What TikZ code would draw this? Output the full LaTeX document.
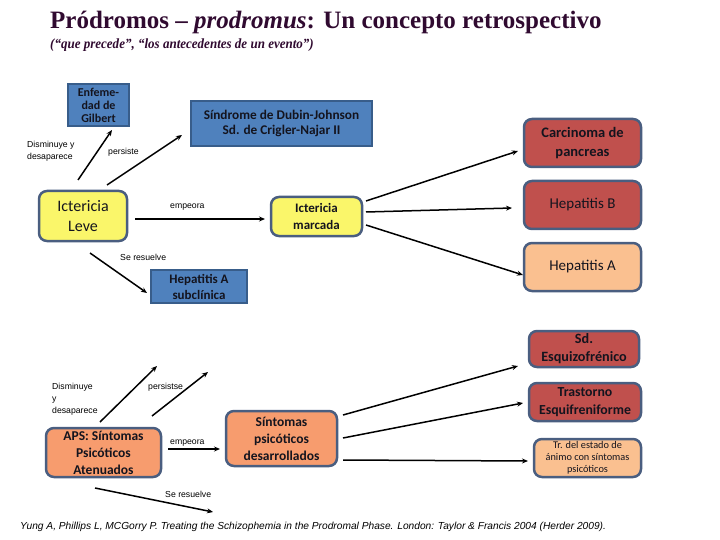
\documentclass[tikz,border=0pt]{standalone}
\usepackage{fontspec}
\setmainfont{Liberation Serif}
\newfontfamily\calib{Carlito}
\newfontfamily\arial{Liberation Sans}
\newfontfamily\titlefont{Liberation Serif}
\newfontfamily\subfont[FakeStretch=0.93]{Liberation Serif}
\usetikzlibrary{arrows.meta}
\definecolor{titlec}{RGB}{48,10,48}
\definecolor{blueF}{RGB}{79,129,189}
\definecolor{blueB}{RGB}{56,93,138}
\definecolor{yellowF}{RGB}{250,246,106}
\definecolor{redF}{RGB}{192,80,77}
\definecolor{orangeF}{RGB}{250,192,144}
\definecolor{salmonF}{RGB}{247,156,110}
\definecolor{rborder}{RGB}{74,94,128}
\definecolor{txt}{RGB}{20,20,30}
\tikzset{
  bluebox/.style={draw=blueB, line width=2pt, fill=blueF, text=txt, font=\calib\bfseries, align=center, inner sep=1pt},
  rbox/.style={rounded corners=8pt, draw=rborder, line width=2.5pt, text=txt, align=center, inner sep=1pt},
  lbl/.style={font=\arial\fontsize{8.7}{12}\selectfont, align=left, inner sep=0pt},
  arr/.style={-{Stealth[length=6pt,width=5pt]}, line width=1.5pt},
  fs/.style n args={2}{font=\calib\fontsize{#1}{#2}\selectfont},
  fsb/.style n args={2}{font=\calib\bfseries\fontsize{#1}{#2}\selectfont}
}
\begin{document}
\begin{tikzpicture}[x=1pt,y=-1pt]
\useasboundingbox[fill=white] (0,0) rectangle (720,540);
% titles
\node[anchor=base west, inner sep=0, text=titlec, font=\titlefont\bfseries\fontsize{25}{28}\selectfont] (title) at (50,28.3) {Pródromos – \textit{prodromus}: Un concepto retrospectivo};
\node[anchor=west, inner sep=0, text=titlec, font=\subfont\bfseries\itshape\fontsize{14}{16}\selectfont] (sub) at (50,45) {(“que precede”, “los antecedentes de un evento”)};
% top nodes
\node[bluebox, fsb={12}{13}, minimum width=61pt, minimum height=42pt] (gil) at (98.5,105) {Enfeme-\\dad de\\Gilbert};
\node[bluebox, fsb={13.3}{15}, minimum width=181pt, minimum height=45pt] (dub) at (281.5,123.5) {Síndrome de Dubin-Johnson\\Sd. de Crigler-Najar II};
\node[rbox, fill=yellowF, fs={16}{20}, minimum width=88pt, minimum height=50pt] (leve) at (83,216) {Ictericia\\Leve};
\node[rbox, fill=yellowF, fsb={13}{17}, minimum width=91pt, minimum height=39pt] (marc) at (316.5,216.5) {Ictericia\\marcada};
\node[rbox, fill=redF, fsb={14.5}{19}, minimum width=117pt, minimum height=48pt] (carc) at (582.5,143) {Carcinoma de\\pancreas};
\node[rbox, fill=redF, fs={15}{16}, minimum width=117pt, minimum height=48pt] (hepb) at (582.5,205) {Hepatitis B};
\node[rbox, fill=orangeF, fs={15}{16}, minimum width=117pt, minimum height=48pt] (hepa) at (582.5,267) {Hepatitis A};
\node[bluebox, fsb={13}{16}, minimum width=96pt, minimum height=33pt] (hsub) at (199,286.5) {Hepatitis A\\subclínica};
% bottom nodes
\node[rbox, fill=redF, fsb={14.2}{18}, minimum width=110pt, minimum height=36pt, inner sep=0pt] (esq) at (584,349) {Sd.\\Esquizofrénico};
\node[rbox, fill=redF, fsb={13.8}{18}, minimum width=112pt, minimum height=38pt, inner sep=0pt] (tras) at (585,402) {Trastorno\\Esquifreniforme};
\node[rbox, fill=orangeF, fs={10.3}{12}, minimum width=107pt, minimum height=38pt, inner sep=0pt] (tre) at (587.5,458) {Tr. del  estado de\\ánimo con síntomas\\psicóticos};
\node[rbox, fill=salmonF, fsb={13.5}{17}, minimum width=115pt, minimum height=49pt] (aps) at (103.5,452.5) {APS: Síntomas\\Psicóticos\\Atenuados};
\node[rbox, fill=salmonF, fsb={13.5}{17}, minimum width=111pt, minimum height=55pt] (sin) at (281.5,438.5) {Síntomas\\psicóticos\\desarrollados};
% connector end points
\coordinate (a1s) at (78,180); \coordinate (a1e) at (112,130);
\coordinate (a2s) at (107,185); \coordinate (a2e) at (182,135);
\coordinate (a3s) at (135,219); \coordinate (a3e) at (265,219);
\coordinate (a4s) at (90,253); \coordinate (a4e) at (147,293);
\coordinate (b1s) at (366,201); \coordinate (b1e) at (518,151);
\coordinate (b2s) at (366,212); \coordinate (b2e) at (512,208);
\coordinate (b3s) at (366,225); \coordinate (b3e) at (523,275);
\coordinate (c1s) at (100,422); \coordinate (c1e) at (157,366);
\coordinate (c2s) at (152,416); \coordinate (c2e) at (208,372);
\coordinate (c3s) at (168,449); \coordinate (c3e) at (220,449);
\coordinate (c4s) at (95,488); \coordinate (c4e) at (213,512);
\coordinate (d1s) at (343,415); \coordinate (d1e) at (518,366);
\coordinate (d2s) at (343,438); \coordinate (d2e) at (523,403);
\coordinate (d3s) at (343,460); \coordinate (d3e) at (528,461);
% connectors
\draw[arr] (a1s) -- (a1e);
\draw[arr] (a2s) -- (a2e);
\draw[arr] (a3s) -- (a3e);
\draw[arr] (a4s) -- (a4e);
\draw[arr] (b1s) -- (b1e);
\draw[arr] (b2s) -- (b2e);
\draw[arr] (b3s) -- (b3e);
\draw[arr] (c1s) -- (c1e);
\draw[arr] (c2s) -- (c2e);
\draw[arr] (c3s) -- (c3e);
\draw[arr] (c4s) -- (c4e);
\draw[arr] (d1s) -- (d1e);
\draw[arr] (d2s) -- (d2e);
\draw[arr] (d3s) -- (d3e);
% labels
\node[lbl, anchor=west, font=\arial\fontsize{8.7}{11.5}\selectfont] (l1) at (27,151.5) {Disminuye y\\desaparece};
\node[lbl, anchor=west] (l2) at (108,152) {persiste};
\node[lbl, anchor=west] (l3) at (170,207) {empeora};
\node[lbl, anchor=west] (l4) at (120,257) {Se resuelve};
\node[lbl, anchor=west, font=\arial\fontsize{8.7}{12}\selectfont] (l5) at (52,399) {Disminuye\\y\\desaparece};
\node[lbl, anchor=west] (l6) at (148,387) {persistse};
\node[lbl, anchor=west] (l7) at (170,443) {empeora};
\node[lbl, anchor=west] (l8) at (165,494) {Se resuelve};
% citation
\node[anchor=west, inner sep=0, font=\arial\itshape\fontsize{10.2}{12}\selectfont, text=black] (cite) at (20,527) {Yung A, Phillips L, MCGorry P. Treating the Schizophemia in the Prodromal Phase. London: Taylor \& Francis 2004 (Herder 2009).};
\end{tikzpicture}
\end{document}
